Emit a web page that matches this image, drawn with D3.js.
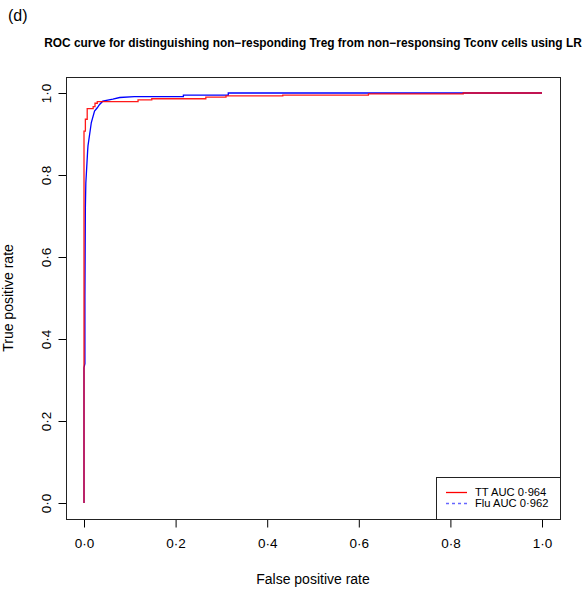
<!DOCTYPE html>
<html>
<head>
<meta charset="utf-8">
<script src="https://cdn.jsdelivr.net/npm/d3@7"></script>
<style>
  html, body { margin: 0; padding: 0; background: #fff; }
  svg { display: block; font-family: "Liberation Sans", Arial, Helvetica, sans-serif; }
</style>
</head>
<body>
<svg id="chart" width="588" height="593"></svg>
<script>
// ---- data ----
const panelLabel = "(d)";
const title = "ROC curve for distinguishing non\u2212responding Treg from non\u2212responsing Tconv cells using LR";
const xLabel = "False positive rate";
const yLabel = "True positive rate";
const tickValues = [0, 0.2, 0.4, 0.6, 0.8, 1.0];

const ttFpr = [0, 0, 0.003, 0.003, 0.007, 0.007, 0.02, 0.02, 0.024, 0.024, 0.029, 0.029, 0.118, 0.118, 0.148, 0.148, 0.266, 0.266, 0.31, 0.31, 0.434, 0.434, 0.621, 0.621, 0.828, 0.828, 1.0];
const ttTpr = [0, 0.907, 0.907, 0.936, 0.936, 0.962, 0.962, 0.967, 0.967, 0.975, 0.975, 0.979, 0.979, 0.983, 0.983, 0.986, 0.986, 0.990, 0.990, 0.993, 0.993, 0.995, 0.995, 0.998, 0.998, 1.0, 1.0];

const fluFpr = [0, 0, 0.002, 0.002, 0.003, 0.004, 0.008, 0.0087, 0.016, 0.023, 0.029, 0.034, 0.041, 0.063, 0.078, 0.11, 0.217, 0.217, 0.315, 0.315, 1.0];
const fluTpr = [0, 0.33, 0.34, 0.50, 0.72, 0.78, 0.86, 0.871, 0.928, 0.956, 0.964, 0.972, 0.98, 0.985, 0.989, 0.991, 0.991, 0.995, 0.995, 1.0, 1.0];

const seriesNames = ["TT AUC 0\u00b7964", "Flu AUC 0\u00b7962"];
const seriesColors = ["#ff0000", "#0000ff"];

// ---- drawing ----
const svg = d3.select("#chart");
const x = d3.scaleLinear().domain([0, 1]).range([84, 542]);
const y = d3.scaleLinear().domain([0, 1]).range([503, 93]);
const fmt = v => d3.format(".1f")(v).replace(".", "\u00b7");

const bx0 = x(-0.04), bx1 = x(1.04), by0 = y(1.04), by1 = y(-0.04);

// panel label
svg.append("text").attr("x", 8).attr("y", 21).attr("font-size", 16).text(panelLabel);
// title
svg.append("text").attr("x", (bx0 + bx1) / 2).attr("y", 47)
  .attr("text-anchor", "middle").attr("font-size", 11.9).attr("font-weight", "bold").text(title);

// curves
const line = d3.line().x(d => x(d[0])).y(d => y(d[1]));
const tt = ttFpr.map((v, i) => [v, ttTpr[i]]);
const flu = fluFpr.map((v, i) => [v, fluTpr[i]]);
const plot = svg.append("g");
plot.append("path").attr("d", line(flu)).attr("fill", "none").attr("stroke", seriesColors[1]).attr("stroke-width", 1.3);
plot.append("path").attr("d", line(tt)).attr("fill", "none").attr("stroke", seriesColors[0]).attr("stroke-width", 1.3).attr("stroke-opacity", 0.9);

// axes
const xAxis = d3.axisBottom(x).tickValues(tickValues).tickFormat(fmt).tickSize(8).tickPadding(11);
const gx = svg.append("g").attr("transform", `translate(0,${Math.round(by1) + 0.5})`).call(xAxis);
gx.select(".domain").remove();
gx.selectAll("text").attr("font-size", 13.5).attr("font-family", "Liberation Sans, Arial, sans-serif").attr("fill", "#000");
gx.selectAll("line").attr("stroke", "#000");

const yAxis = d3.axisLeft(y).tickValues(tickValues).tickFormat(fmt).tickSize(8).tickPadding(0);
const gy = svg.append("g").attr("transform", `translate(${Math.round(bx0) + 0.5},0)`).call(yAxis);
gy.select(".domain").remove();
gy.selectAll("line").attr("stroke", "#000");
gy.selectAll("text").attr("font-size", 13.5).attr("font-family", "Liberation Sans, Arial, sans-serif").attr("fill", "#000")
  .attr("text-anchor", "middle").attr("dy", null).attr("x", null)
  .attr("transform", "translate(-20,0) rotate(-90)").attr("dy", "0.35em");

// box
svg.append("rect").attr("x", Math.round(bx0) + 0.5).attr("y", Math.round(by0) + 0.5)
  .attr("width", Math.round(bx1) - Math.round(bx0)).attr("height", Math.round(by1) - Math.round(by0))
  .attr("fill", "none").attr("stroke", "#222").attr("stroke-width", 1);

// axis labels
svg.append("text").attr("x", (bx0 + bx1) / 2).attr("y", 584).attr("text-anchor", "middle").attr("font-size", 14).text(xLabel);
svg.append("text").attr("transform", `translate(13,${(by0 + by1) / 2}) rotate(-90)`).attr("text-anchor", "middle").attr("font-size", 14).text(yLabel);

// legend
const lg = svg.append("g");
lg.append("rect").attr("x", 436.5).attr("y", 477.5).attr("width", Math.round(bx1) - 436).attr("height", Math.round(by1) - 477)
  .attr("fill", "#fff").attr("stroke", "#222");
seriesNames.forEach((name, i) => {
  const ly = 492.5 + i * 11;
  lg.append("line").attr("x1", 446).attr("x2", 467).attr("y1", ly).attr("y2", ly)
    .attr("stroke", seriesColors[i]).attr("stroke-width", 1.3)
    .attr("stroke-dasharray", i === 1 ? "3,3" : null).attr("stroke-opacity", i === 1 ? 0.6 : 1);
  lg.append("text").attr("x", 475).attr("y", ly).attr("dy", "0.35em").attr("font-size", 11.2).text(name);
});
</script>
</body>
</html>
